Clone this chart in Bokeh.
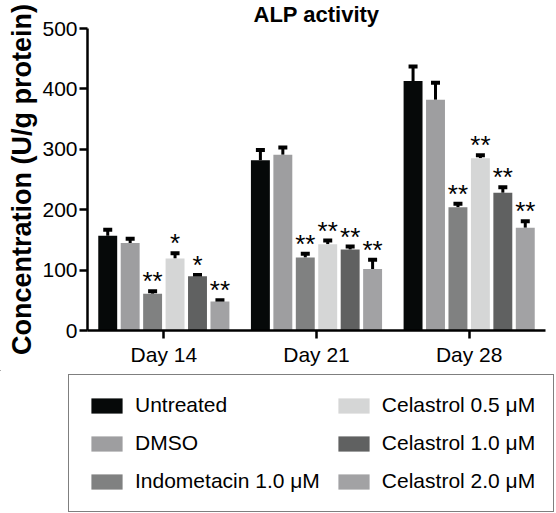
from bokeh.plotting import figure
from bokeh.layouts import column
from bokeh.models import (ColumnDataSource, Range1d, FixedTicker, Legend, LegendItem,
                          Whisker, TeeHead)
from bokeh.core.properties import value
from bokeh.embed import file_html
from bokeh.resources import INLINE

# ---- data ----
days = ["Day 14", "Day 21", "Day 28"]
series_names = ["Untreated", "DMSO", "Indometacin 1.0 \u03bcM",
                "Celastrol 0.5 \u03bcM", "Celastrol 1.0 \u03bcM", "Celastrol 2.0 \u03bcM"]
colors = ["#060909", "#9e9ea0", "#808181", "#d5d6d6", "#606161", "#a2a2a4"]

untreated = [157, 282, 413]
untreated_err = [10, 17, 24]
dmso = [145, 291, 382]
dmso_err = [7, 12, 28]
indometacin = [61, 121, 204]
indometacin_err = [4, 6, 6]
celastrol_05 = [119, 143, 285]
celastrol_05_err = [9, 6, 5]
celastrol_10 = [90, 134, 228]
celastrol_10_err = [2, 5, 9]
celastrol_20 = [48, 102, 170]
celastrol_20_err = [2, 15, 11]

untreated_sig = ["", "", ""]
dmso_sig = ["", "", ""]
indometacin_sig = ["**", "**", "**"]
celastrol_05_sig = ["*", "**", "**"]
celastrol_10_sig = ["*", "**", "**"]
celastrol_20_sig = ["**", "**", "**"]

y_ticks = [0, 100, 200, 300, 400, 500]

values = [untreated, dmso, indometacin, celastrol_05, celastrol_10, celastrol_20]
errors = [untreated_err, dmso_err, indometacin_err, celastrol_05_err, celastrol_10_err, celastrol_20_err]
sigs = [untreated_sig, dmso_sig, indometacin_sig, celastrol_05_sig, celastrol_10_sig, celastrol_20_sig]

FONT = "Liberation Sans"
W = 556
H1, H2 = 370, 143

p = figure(width=W, height=H1, output_backend="svg", toolbar_location=None,
           x_range=Range1d(-0.5, 2.5), y_range=Range1d(0, 500),
           min_border_left=87, min_border_right=11,
           min_border_top=28, min_border_bottom=40)
p.frame_align = False
p.outline_line_color = None
p.xgrid.visible = False
p.ygrid.visible = False

p.title.text = "ALP activity"
p.title.align = "center"
p.title.vertical_align = "top"
p.title.offset = -16
p.title.standoff = 0
p.title.text_font = FONT
p.title.text_font_size = "22px"
p.title.text_font_style = "bold"
p.title.text_color = "black"

# legend-only figure below the chart (its ranges keep the feeder bars out of view)
q = figure(width=W, height=H2, output_backend="svg", toolbar_location=None,
           x_range=Range1d(10, 11), y_range=Range1d(-2000, -1000),
           x_axis_location=None, y_axis_location=None,
           min_border_left=0, min_border_right=0, min_border_top=0, min_border_bottom=0)
q.frame_align = False
q.outline_line_color = None
q.xgrid.visible = False
q.ygrid.visible = False

n = len(series_names)
pitch = 0.147
bar_w = 0.124

items = []
for i in range(n):
    xs = [g + (i - (n - 1) / 2) * pitch for g in range(len(days))]
    tops = [v + e for v, e in zip(values[i], errors[i])]
    src = ColumnDataSource(dict(x=xs, val=values[i], top=tops, sig=sigs[i]))
    w = Whisker(source=src, base="x", lower="val", upper="top", dimension="height",
                line_color="black", line_width=3, lower_head=None,
                upper_head=TeeHead(size=9, line_width=4, line_color="black"))
    p.add_layout(w)
    p.vbar(x="x", top="val", width=bar_w, bottom=0, source=src,
           fill_color=colors[i], line_color=None)
    p.text(x="x", y="top", text="sig", source=src, text_font=value(FONT),
           text_font_size=value("26px"), text_align="center",
           text_baseline="alphabetic", y_offset=-10, text_color="black")
    r = q.vbar(x="x", top="val", width=bar_w, bottom=0, source=src,
               fill_color=colors[i], line_color=None)
    items.append(LegendItem(label=series_names[i], renderers=[r]))

for ax in (p.xaxis[0], p.yaxis[0]):
    ax.axis_line_width = 2.5
    ax.major_tick_line_width = 2.5
    ax.major_tick_out = 8
    ax.major_tick_in = 0
    ax.minor_tick_line_color = None
    ax.major_label_text_font = FONT
    ax.major_label_text_font_size = "21px"
    ax.major_label_text_color = "black"
    ax.axis_line_color = "black"
    ax.major_tick_line_color = "black"

p.xaxis.ticker = FixedTicker(ticks=list(range(len(days))))
p.xaxis.major_label_overrides = {g: d for g, d in enumerate(days)}
p.xaxis.major_label_standoff = 4

p.yaxis.ticker = FixedTicker(ticks=y_ticks)
p.yaxis.major_label_standoff = 2
p.yaxis.axis_label = "Concentration (U/g protein)"
p.yaxis.axis_label_text_font = FONT
p.yaxis.axis_label_text_font_size = "27px"
p.yaxis.axis_label_text_font_style = "bold"
p.yaxis.axis_label_text_color = "black"
p.yaxis.axis_label_standoff = 2

legend = Legend(items=items, location=(68, 1), orientation="vertical", nrows=3,
                glyph_width=39, glyph_height=19, label_standoff=9, spacing=14, padding=18,
                margin=0, border_line_color="black", border_line_width=1.5,
                background_fill_color="white", background_fill_alpha=1,
                label_text_font=FONT, label_text_font_size="21px", label_text_color="black")
q.add_layout(legend)

layout = column(p, q, spacing=0)
open("out.html", "w").write(file_html(layout, INLINE))
